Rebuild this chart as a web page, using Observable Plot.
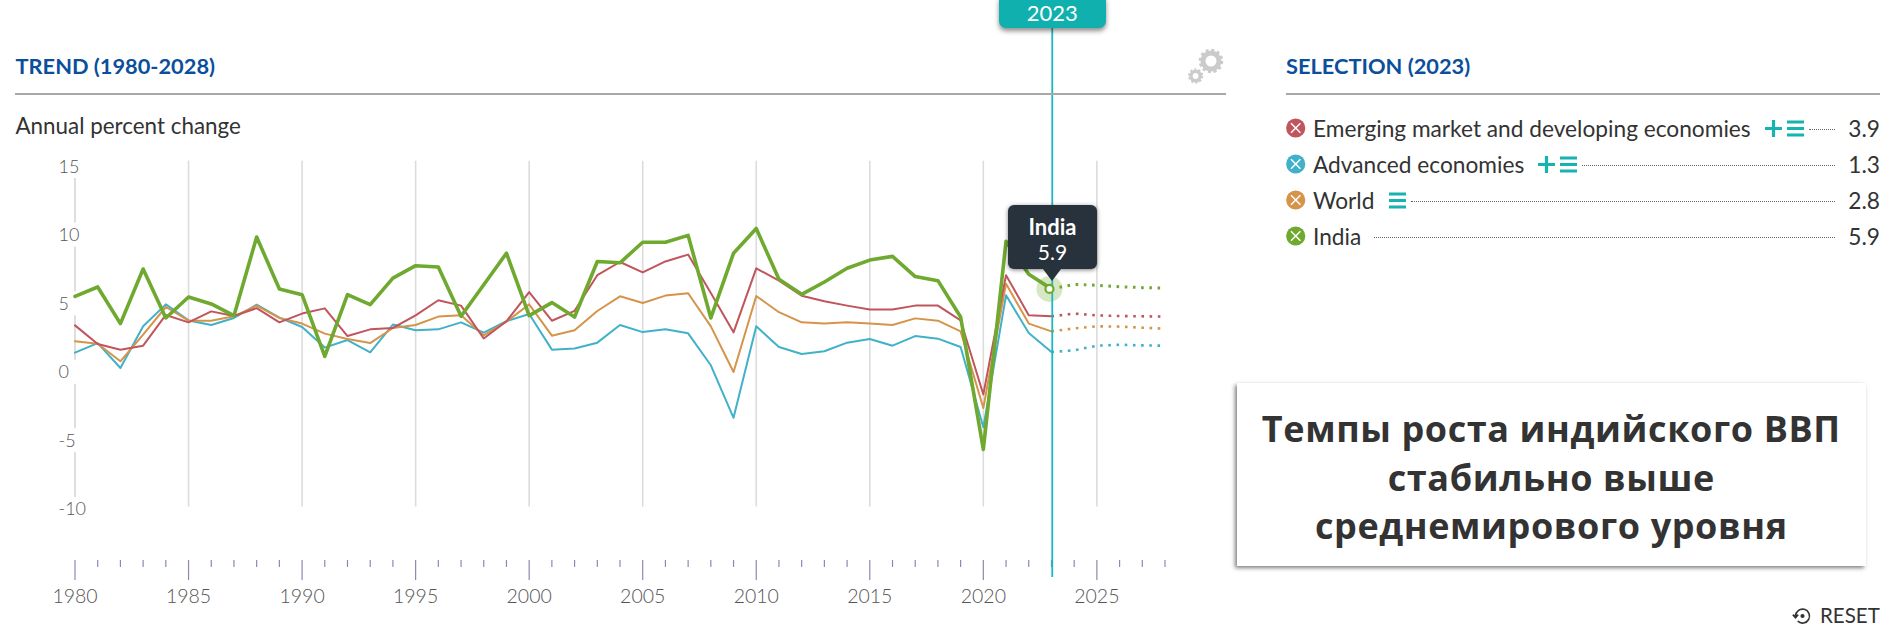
<!DOCTYPE html>
<html><head><meta charset="utf-8">
<script src="https://cdn.jsdelivr.net/npm/d3@7"></script>
<script src="https://cdn.jsdelivr.net/npm/@observablehq/plot@0.6"></script>
<style>
html,body{margin:0;padding:0;background:#fff;width:1900px;height:643px;overflow:hidden;font-family:Lato,sans-serif}
#chart{position:absolute;left:0;top:0}
#chart svg{display:block;overflow:visible}
.abs{position:absolute}
.head{font-size:21.8px;font-weight:700;color:#0b4f9c;line-height:24px;top:54px}
.hr{height:2px;background:#a9a9a9;top:92.5px}
.row{position:absolute;left:1286px;width:594px;height:30px;display:flex;align-items:center;font-size:22.7px;color:#333}
.row .name{margin-left:7px}
.row .dots{flex:1;border-bottom:1px dotted #666;height:0;margin:2px 13px 0 5px}
.row .val{color:#333}
.row svg{flex:none}
</style></head><body>
<div id="chart"></div>
<script>
const firstYear = 1980;
const lastYear = 2028;
const emerging = [3.24,1.88,1.47,1.76,4.0,3.46,4.26,3.92,4.5,3.46,4.1,4.48,2.46,2.95,3.05,3.97,5.07,4.68,2.28,3.54,5.67,3.58,4.3,6.9,7.86,7.1,7.9,8.4,5.6,2.73,7.4,6.5,5.4,5.0,4.68,4.39,4.39,4.68,4.68,3.6,-1.8,6.9,3.97,3.9];
const advanced = [1.25,1.95,0.13,3.17,4.77,3.6,3.27,3.78,4.75,3.8,3.12,1.62,2.17,1.28,3.3,2.88,2.95,3.46,2.71,3.54,4.07,1.47,1.55,1.98,3.27,2.75,2.95,2.66,0.33,-3.5,3.17,1.66,1.15,1.35,1.98,2.25,1.76,2.46,2.27,1.66,-4.19,5.43,2.68,1.3];
const world = [2.08,1.9,0.62,2.57,4.58,3.58,3.58,3.9,4.68,3.78,3.37,2.64,2.24,1.95,3.05,3.27,3.88,3.97,2.51,3.51,4.77,2.49,2.88,4.29,5.36,4.87,5.41,5.58,3.17,-0.16,5.38,4.2,3.46,3.37,3.46,3.37,3.27,3.75,3.58,2.8,-2.78,6.28,3.37,2.8];
const india = [5.36,6.04,3.37,7.35,3.78,5.31,4.8,3.95,9.68,5.89,5.48,0.98,5.48,4.75,6.69,7.59,7.5,3.9,6.2,8.5,3.95,4.9,3.85,7.9,7.8,9.3,9.3,9.8,3.78,8.5,10.3,6.6,5.5,6.4,7.4,8.0,8.27,6.8,6.5,3.85,-5.8,9.37,6.96,5.9];
const emergingF = [3.9,4.1,3.97,3.92,3.9,3.88];
const advancedF = [1.3,1.42,1.76,1.83,1.78,1.76];
const worldF = [2.8,3.02,3.17,3.15,3.07,3.0];
const indiaF = [5.9,6.23,6.16,6.06,5.99,5.96];
const seriesNames = ["Emerging market and developing economies","Advanced economies","World","India"];
const seriesColors = ["#c0555c","#41b1c9","#d5944a","#6fa92f"];
const selectedValues = ["3.9","1.3","2.8","5.9"];
const selectedYear = 2023;
const yTicks = [15,10,5,0,-5,-10];
const axisGapTicks = [15,10,5,0,-5];
const labelYears = [1980,1985,1990,1995,2000,2005,2010,2015,2020,2025];
const gridYears = [1985,1990,1995,2000,2005,2010,2015,2020,2025];
const rowPlus = [true,true,false,false];
const rowMenu = [true,true,true,false];
const rowTops = [113,149,185,221];
const calloutLines = ["Темпы роста индийского ВВП","стабильно выше","среднемирового уровня"];

const years = d3.range(firstYear,lastYear+1);
const minorYears = years.filter(y=>y%5!==0);
const hist = [emerging,advanced,world,india];
const fore = [emergingF,advancedF,worldF,indiaF];
const histRows = i => hist[i].map((v,k)=>({year:firstYear+k,v}));
const foreRows = i => fore[i].map((v,k)=>({year:selectedYear+k,v}));
const lineMarks = [1,2,0,3].flatMap(i=>[
  Plot.line(foreRows(i),{x:"year",y:"v",stroke:seriesColors[i],strokeWidth:i===3?3:2.6,strokeDasharray:"2.6,5.6",strokeLinecap:"butt"}),
  Plot.line(histRows(i),{x:"year",y:"v",stroke:seriesColors[i],strokeWidth:i===3?3.6:2})
]);

const plot = Plot.plot({
  width:1900,height:643,
  marginLeft:74.5,marginRight:735.5,marginTop:25,marginBottom:83,
  style:{background:"transparent",fontFamily:"Lato,sans-serif"},
  x:{domain:[firstYear,lastYear],axis:null},
  y:{domain:[-13.9,25.1],axis:null},
  marks:[
    Plot.ruleX(gridYears,{y1:15.2,y2:-10,stroke:"#dcdcdc",strokeWidth:1.6}),
    Plot.ruleX(axisGapTicks,{x:()=>firstYear,y1:d=>d-1.05,y2:d=>d-4.3,stroke:"#c8c8c8",strokeWidth:1.2}),
    Plot.text(yTicks,{x:()=>firstYear,y:d=>d,text:d=>String(d),dx:-16.5,dy:2.7,textAnchor:"start",fontSize:18,fontWeight:300,fill:"#555"}),
    ...lineMarks,
    Plot.axisX({anchor:"bottom",ticks:minorYears,tickSize:7,tickFormat:()=>"",stroke:"#8a8ab0",strokeWidth:1.2,label:null}),
    Plot.axisX({anchor:"bottom",ticks:labelYears,tickSize:20,tickPadding:9,tickFormat:d=>String(d),stroke:"#8a8ab0",fill:"#555",fontSize:19.5,fontWeight:300,strokeWidth:1.2,label:null}),
    Plot.dot([selectedYear],{x:d=>d,y:()=>5.9,r:13,fill:seriesColors[3],fillOpacity:0.28,dx:-2}),
    Plot.ruleX([selectedYear],{stroke:"#1cb8c0",strokeWidth:1.8,insetBottom:-17,dx:0.8}),
    Plot.dot([selectedYear],{x:d=>d,y:()=>5.9,r:4,fill:"#fff",stroke:seriesColors[3],strokeWidth:2.2,dx:-2})
  ]
});
document.getElementById("chart").append(plot);

function add(html){const t=document.createElement("div");t.innerHTML=html;document.body.append(t.firstElementChild);}
add(`<div class="abs head" style="left:15.5px">TREND (1980-2028)</div>`);
add(`<div class="abs head" style="left:1286px">SELECTION (2023)</div>`);
add(`<div class="abs hr" style="left:15px;width:1211px"></div>`);
add(`<div class="abs hr" style="left:1286px;width:594px"></div>`);
add(`<div class="abs" style="left:15.5px;top:113px;font-size:22.4px;line-height:26px;color:#333">Annual percent change</div>`);
add(`<div class="abs" style="left:998.5px;top:-6px;width:107.5px;height:34px;background:#0fb0ae;border-radius:7px;box-shadow:0 3px 5px rgba(0,0,0,.45);color:#fff;text-align:center;font-size:22px;line-height:37px;font-family:Lato">${selectedYear}</div>`);
add(`<svg class="abs" style="left:1176.5px;top:44px" width="50" height="50" viewBox="0 0 50 50" fill="none" stroke="#cbcbcb"><circle cx="34" cy="17" r="8" stroke-width="5"/><circle cx="34" cy="17" r="10.8" stroke-width="3" stroke-dasharray="3 2.65"/><circle cx="18.6" cy="32" r="4.6" stroke-width="3.4"/><circle cx="18.6" cy="32" r="6.4" stroke-width="2.4" stroke-dasharray="2.2 1.8"/></svg>`);
add(`<div class="abs" style="left:1008px;top:205px;width:89px;height:64px;background:#27323c;border-radius:6px;box-shadow:0 1px 4px rgba(0,0,0,.5);color:#fff;text-align:center"><div style="font-size:22px;font-weight:700;line-height:25px;margin-top:9px">${seriesNames[3]}</div><div style="font-size:21px;line-height:25px">${selectedValues[3]}</div><div style="position:absolute;left:35px;top:64px;border-left:9.5px solid transparent;border-right:9.5px solid transparent;border-top:12px solid #27323c"></div></div>`);

const plusIcon = `<svg width="17" height="17" viewBox="0 0 17 17" style="margin-left:14px"><path d="M8.5 0v17M0 8.5h17" stroke="#17b3b1" stroke-width="3.2"/></svg>`;
const menuIcon = (ml)=>`<svg width="17" height="17" viewBox="0 0 17 17" style="margin-left:${ml}px"><path d="M0 2h17M0 8.5h17M0 15h17" stroke="#17b3b1" stroke-width="3"/></svg>`;
seriesNames.forEach((name,i)=>{
  add(`<div class="row" style="top:${rowTops[i]}px"><svg width="20" height="24" viewBox="0 0 20 24"><circle cx="9.7" cy="12" r="9.6" fill="${seriesColors[i]}"/><path d="M5 7.2l9.4 9.6M14.4 7.2l-9.4 9.6" stroke="#fff" stroke-width="1.5"/></svg><span class="name">${name}</span>${rowPlus[i]?plusIcon:""}${rowMenu[i]?menuIcon(rowPlus[i]?5:15):""}<span class="dots"${i===3?' style="margin-left:13px"':''}></span><span class="val">${selectedValues[i]}</span></div>`);
});

add(`<div class="abs" style="left:1236.5px;top:383px;width:629.5px;height:183px;background:#fff;box-shadow:-2px 2px 4px rgba(0,0,0,.5);font-family:'Open Sans',sans-serif;font-weight:700;font-size:36px;letter-spacing:.6px;line-height:48.5px;color:#333;text-align:center;padding-top:22px;box-sizing:border-box;white-space:nowrap">${calloutLines.join("<br>")}</div>`);
add(`<div class="abs" style="left:1820px;top:603px;font-size:20.5px;line-height:25px;color:#333">RESET</div>`);
add(`<svg class="abs" style="left:1792px;top:606px" width="20" height="20" viewBox="0 0 20 20" fill="none" stroke="#333" stroke-width="1.6"><path d="M3.5 10a7 7 0 1 1 2.2 5.2"/><path d="M0.8 8.8l2.7 3 2.7-3" fill="#333"/><circle cx="10.5" cy="10" r="1.3" fill="#333"/></svg>`);
</script>
</body></html>
